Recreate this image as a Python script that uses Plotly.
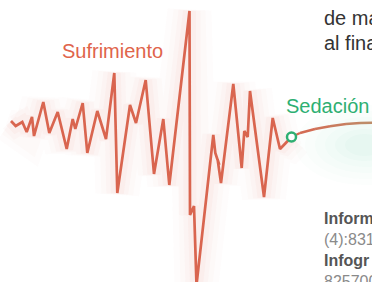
import plotly.graph_objects as go

# Signal (time vs amplitude)
t_suf = [11, 15.7, 22.3, 26.7, 32, 34, 43.3, 49.3, 57.7, 66.7, 72.7, 75.3, 82.7, 87.3,
         97.3, 106, 114.3, 117.3, 130, 136, 145.7, 154, 163.3, 169.3, 189.5, 190, 194,
         196.5, 213.3, 215.3, 219.3, 217.7, 221, 233.3, 241.7, 244.3, 247.7, 250, 264,
         272.7, 280, 291.5]
a_suf = [4, -1, 3, -7, 8, -11, 23, -8, 13, -24, 6, -4, 22, -28,
         14, -14, 52, -68, 20, 2, 45, -49, 6, -60, 114, -90, -81,
         -160, -10, -28, -40, -35, -58, 41, -43, -6, -12, 34, -72,
         7, -24, -12]

t_sed = [291.5, 300, 315, 330, 346, 360, 372]
a_sed = [-12, -8, -4, -1.3, 1, 2, 2.3]

label_suf = "Sufrimiento"
label_sed = "Sedación"
top_lines = ["de ma", "al fina"]
note_lines = ["Inform", "(4):831", "Infogr", "825700"]

RED = "#D9654F"
GREEN = "#2EAF72"

fig = go.Figure()

# green soft glow at right
for rx, ry, op in [(70, 40, 0.016), (60, 34, 0.016), (50, 28, 0.02), (40, 22, 0.02),
                   (30, 16, 0.022), (20, 11, 0.022)]:
    fig.add_shape(type="circle", xref="x", yref="y",
                  x0=365 - rx, x1=365 + rx, y0=-20 - ry, y1=-20 + ry,
                  fillcolor=f"rgba(60,190,130,{op})", line_width=0, layer="below")

# pink glow
for w, op in [(44, 0.02), (32, 0.025), (22, 0.03), (13, 0.045)]:
    fig.add_trace(go.Scatter(x=t_suf, y=a_suf, mode="lines",
                             line=dict(color=f"rgba(225,110,100,{op})", width=w),
                             hoverinfo="skip", showlegend=False))

fig.add_trace(go.Scatter(x=t_suf, y=a_suf, mode="lines",
                         line=dict(color=RED, width=2.7), showlegend=False))

# connector with colour gradient
c0 = (217, 101, 79)
c1 = (190, 140, 105)
n = len(t_sed) - 1
for i in range(n):
    f = i / max(n - 1, 1)
    c = tuple(int(c0[k] + (c1[k] - c0[k]) * f) for k in range(3))
    fig.add_trace(go.Scatter(x=t_sed[i:i + 2], y=a_sed[i:i + 2], mode="lines",
                             line=dict(color=f"rgb{c}", width=2.4),
                             showlegend=False))

fig.add_trace(go.Scatter(x=[t_sed[0]], y=[a_sed[0]], mode="markers",
                         marker=dict(size=9, color="white",
                                     line=dict(color=GREEN, width=2.5)),
                         showlegend=False))

FONT = "Liberation Sans, Arial, sans-serif"
ann = []
ann.append(dict(x=60, y=125 - 51, text=label_suf, xanchor="left", yanchor="middle",
                font=dict(family=FONT, size=20, color="#E0644B")))
ann.append(dict(x=284, y=125 - 106, text=label_sed, xanchor="left", yanchor="middle",
                font=dict(family=FONT, size=20, color=GREEN)))
for i, s in enumerate(top_lines):
    ann.append(dict(x=322, y=125 - (18 + 25 * i), text=s, xanchor="left", yanchor="middle",
                    font=dict(family=FONT, size=20, color="#333333")))
note_y = [218, 239, 260, 281]
note_col = ["#555555", "#8a8a8a", "#555555", "#8a8a8a"]
for i, s in enumerate(note_lines):
    txt = f"<b>{s}</b>" if i % 2 == 0 else s
    ann.append(dict(x=322, y=125 - note_y[i], text=txt, xanchor="left", yanchor="middle",
                    font=dict(family=FONT, size=16, color=note_col[i])))
for a in ann:
    a.update(xref="x", yref="y", showarrow=False)

fig.update_layout(
    width=372, height=282, margin=dict(l=0, r=0, t=0, b=0),
    paper_bgcolor="white", plot_bgcolor="white",
    xaxis=dict(range=[0, 372], visible=False, fixedrange=True),
    yaxis=dict(range=[-157, 125], visible=False, fixedrange=True),
    annotations=ann, showlegend=False, hovermode=False,
)
fig.write_html("out.html", config={"displayModeBar": False, "staticPlot": True},
               post_script="document.body.style.margin='0';document.body.style.overflow='hidden';")
